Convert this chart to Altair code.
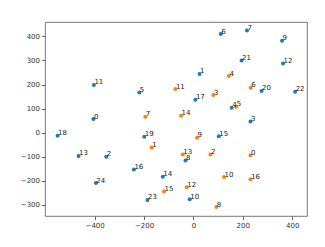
import altair as alt
import pandas as pd

blue_x = [-405, 25, -353, 231, 155, -219, 111, 217, -32, 359, -15, -403, 363, -465, -124, 103, -241, 8, -550, -199, 276, 195, 412, -186, -395]
blue_y = [56, 244, -101, 46, 103, 167, 410, 425, -116, 382, -277, 198, 287, -97, -184, -15, -154, 137, -13, -17, 173, 300, 170, -280, -210]
orange_x = [231, -169, 69, 81, 144, 173, 232, -195, 93, 15, 124, -73, -27, -43, -50, -119, 231]
orange_y = [-94, -62, -91, 156, 235, 107, 187, 66, -310, -22, -185, 181, -227, -91, 70, -245, -194]

rows = []
for i, (x, y) in enumerate(zip(blue_x, blue_y)):
    rows.append({"x": x, "y": y, "label": str(i), "series": "a", "order": 0})
for i, (x, y) in enumerate(zip(orange_x, orange_y)):
    rows.append({"x": x, "y": y, "label": str(i), "series": "b", "order": 1})
df = pd.DataFrame(rows)

xs = alt.X("x:Q", scale=alt.Scale(domain=[-601, 460], nice=False, zero=False),
           axis=alt.Axis(values=[-400, -200, 0, 200, 400], title=None, grid=False,
                         domain=False, tickColor="#444", tickSize=3.5, tickWidth=0.8,
                         labelFontSize=7, labelColor="#333", labelFont="DejaVu Sans", labelPadding=2))
ys = alt.Y("y:Q", scale=alt.Scale(domain=[-347, 460], nice=False, zero=False),
           axis=alt.Axis(values=[-300, -200, -100, 0, 100, 200, 300, 400], title=None, grid=False,
                         domain=False, tickColor="#444", tickSize=3.5, tickWidth=0.8,
                         labelFontSize=7, labelColor="#333", labelFont="DejaVu Sans", labelPadding=2))

color = alt.Color("series:N", scale=alt.Scale(domain=["a", "b"], range=["#1f77b4", "#ff7f0e"]), legend=None)

base = alt.Chart(df)
pts = base.mark_circle(size=16, opacity=1).encode(x=xs, y=ys, color=color, order="order:Q")
txt = base.mark_text(align="left", baseline="alphabetic", dx=0.5, dy=-0.5, fontSize=7,
                     font="DejaVu Sans", color="#222").encode(x=xs, y=ys, text="label:N")

chart = alt.layer(pts, txt).properties(
    width=262, height=194,
    autosize=alt.AutoSizeParams(type="none"),
    padding={"left": 37, "top": 14, "right": 10, "bottom": 23},
).configure_view(stroke="#555", strokeWidth=0.8)

chart.save("out.html", embed_options={"renderer": "svg", "actions": False})
